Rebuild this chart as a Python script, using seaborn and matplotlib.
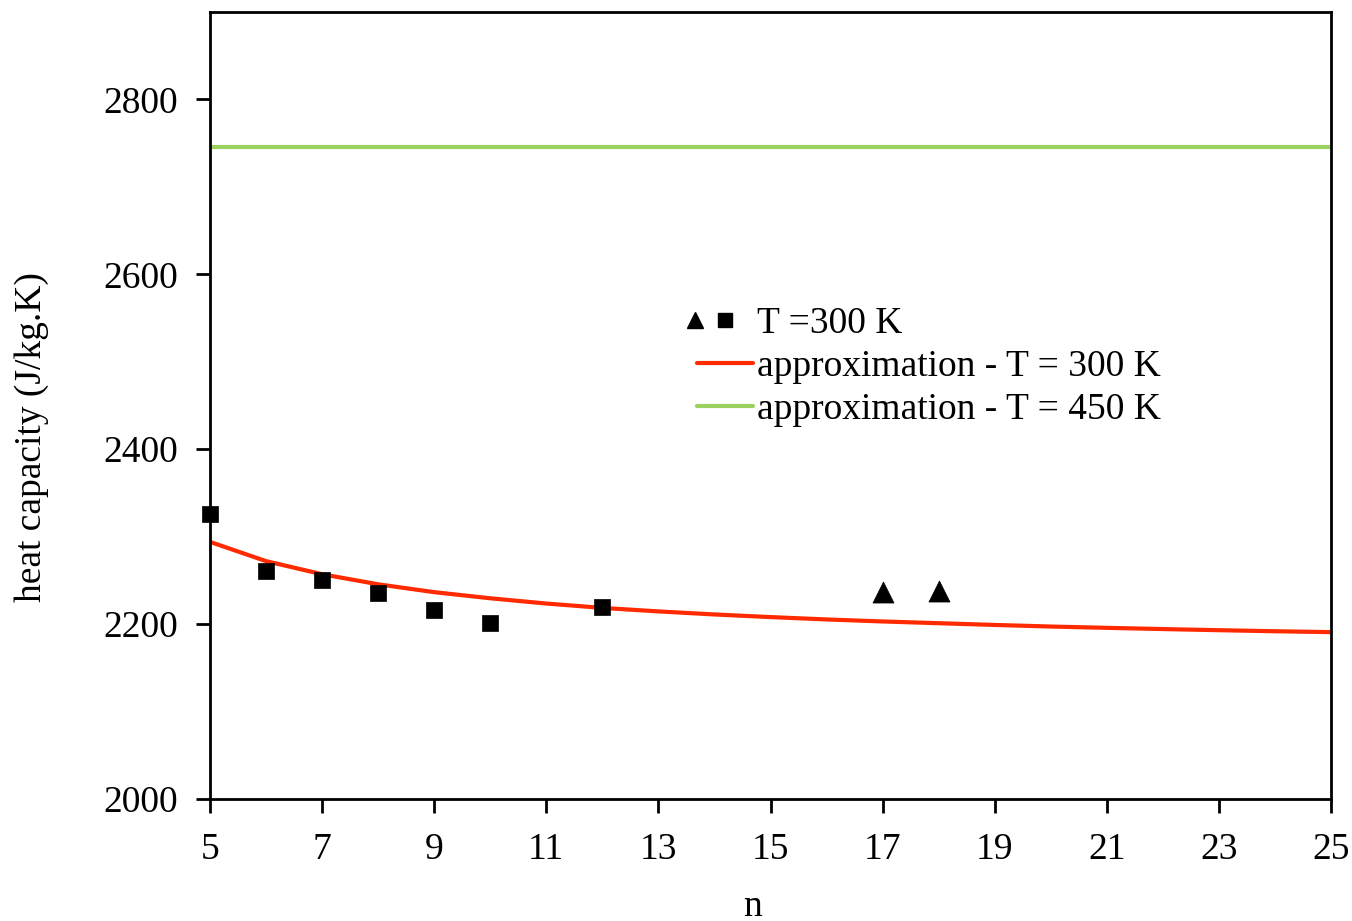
import matplotlib
matplotlib.use("Agg")
import matplotlib.pyplot as plt
import seaborn as sns
import pandas as pd
from matplotlib.lines import Line2D
from matplotlib.legend_handler import HandlerTuple

# measured data, T = 300 K
n_squares = [5, 6, 7, 8, 9, 10, 12]
cp_squares = [2326, 2261, 2250, 2235, 2216, 2201, 2220]
n_triangles = [17, 18]
cp_triangles = [2237, 2238]

# approximation curves
n_curve = [5, 6, 7, 8, 9, 10, 11, 12, 13, 14, 15, 16, 17, 18, 19, 20, 21, 22, 23, 24, 25]
cp_300 = [2294, 2272, 2257, 2245.5, 2236.5, 2229.5, 2223.5, 2218.5, 2214.5, 2211, 2208,
          2205.3, 2203, 2201, 2199, 2197.2, 2195.7, 2194.3, 2193, 2191.8, 2190.8]
cp_450 = [2746] * len(n_curve)

sns.set_theme(style="ticks")
plt.rcParams['font.family'] = ['Liberation Serif', 'DejaVu Serif']
plt.rcParams['text.color'] = 'black'
plt.rcParams['axes.labelcolor'] = 'black'
plt.rcParams['xtick.color'] = 'black'
plt.rcParams['ytick.color'] = 'black'

fig = plt.figure(figsize=(13.52, 9.21), dpi=100)
ax = fig.add_axes([0.1553, 0.1325, 0.8292, 0.8545])

red = "#FF2A00"
green = "#9BD15F"
FS = 27

df_curve = pd.DataFrame({"n": n_curve, "cp300": cp_300, "cp450": cp_450})
sns.lineplot(data=df_curve, x="n", y="cp450", ax=ax, color=green, linewidth=3, zorder=2)
sns.lineplot(data=df_curve, x="n", y="cp300", ax=ax, color=red, linewidth=3, zorder=2)
sns.scatterplot(x=n_squares, y=cp_squares, ax=ax, marker="s", s=140, color="black",
                edgecolor="black", linewidth=0.5, zorder=3, clip_on=False)
sns.scatterplot(x=n_triangles, y=cp_triangles, ax=ax, marker="^", s=230, color="black",
                edgecolor="black", linewidth=0.5, zorder=3, clip_on=False)

ax.set_xlim(5, 25)
ax.set_ylim(2000, 2900)
ax.set_xticks(range(5, 26, 2))
ax.set_yticks([2000, 2200, 2400, 2600, 2800])
for s in ax.spines.values():
    s.set_color("black")
    s.set_linewidth(2)
ax.tick_params(axis="both", direction="out", length=10, width=2, color="black",
               labelsize=FS, labelcolor="black")
ax.tick_params(axis="y", pad=13)
ax.tick_params(axis="x", pad=14)

ax.set_xlabel("n", fontsize=FS, color="black")
ax.set_ylabel("heat capacity (J/kg.K)", fontsize=FS, color="black")
ax.yaxis.set_label_coords(-0.144, 0.46)
ax.xaxis.set_label_coords(0.484, -0.115)

h_tri = Line2D([], [], marker="^", color="black", linestyle="none", markersize=12)
h_sq = Line2D([], [], marker="s", color="black", linestyle="none", markersize=10.5)
h_blank = Line2D([], [], linestyle="none", marker=None)
h_red = Line2D([], [], color=red, linewidth=3)
h_green = Line2D([], [], color=green, linewidth=3)
leg = ax.legend([(h_tri, h_sq, h_blank), h_red, h_green],
                ["T =300 K", "approximation - T = 300 K", "approximation - T = 450 K"],
                handler_map={tuple: HandlerTuple(ndivide=None, pad=0.88)},
                loc="upper left", bbox_to_anchor=(0.421, 0.645), frameon=False,
                fontsize=FS, handlelength=1.5, handletextpad=0.1, labelspacing=0.23,
                borderaxespad=0)

fig.savefig("out.png", dpi=100)
